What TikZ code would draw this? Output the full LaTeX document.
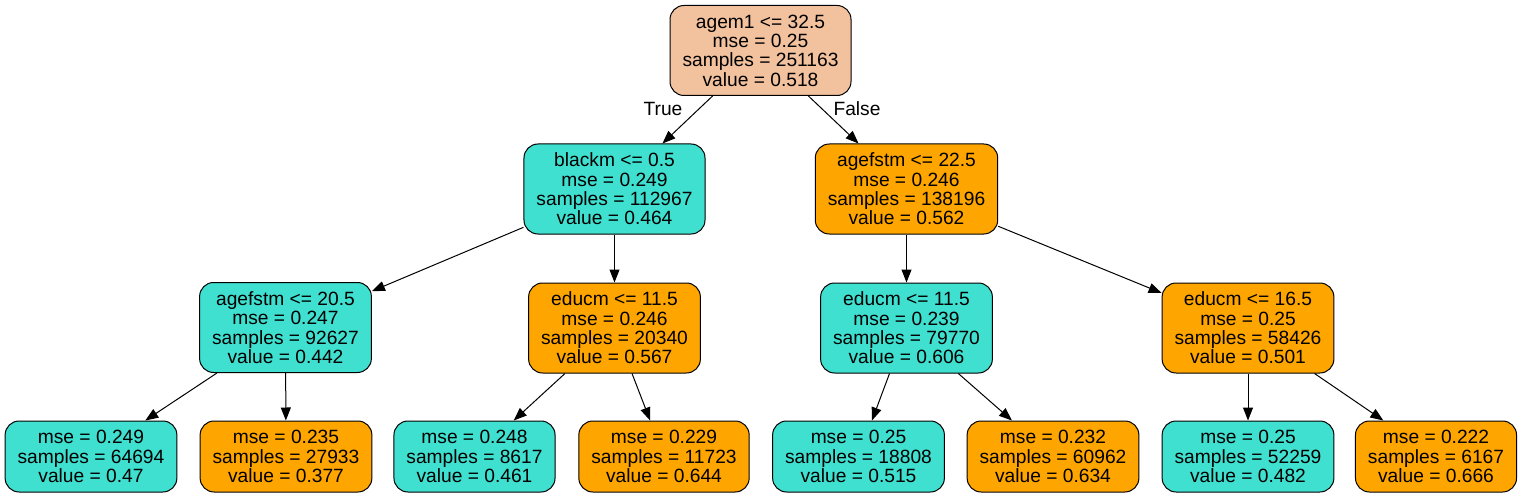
\documentclass[tikz,border=0pt]{standalone}
\usepackage{fontspec}
\setmainfont{Liberation Sans}
\usetikzlibrary{arrows.meta}
\definecolor{turq}{HTML}{40E0D0}
\definecolor{orng}{HTML}{FFA500}
\definecolor{peach}{HTML}{F2C29E}
\begin{document}
\begin{tikzpicture}[x=1pt,y=-1pt,
  tnode/.style={draw=black, line width=1pt, rounded corners=14pt, align=center,
    inner xsep=12.5pt, inner ysep=0pt, font=\fontsize{19.2pt}{19.3pt}\selectfont},
  split/.style={tnode, minimum height=90pt},
  leaf/.style={tnode, minimum height=71pt},
  lbl/.style={font=\fontsize{19.2pt}{19.3pt}\selectfont, inner sep=0pt},
  edge/.style={draw=black, line width=1pt, -{Triangle[length=13pt,width=10pt]}}]
\useasboundingbox (0,0) rectangle (1522,497);
\node[split, fill=peach] (root) at (760.5,50.5) {agem1 <= 32.5\\mse = 0.25\\samples = 251163\\value = 0.518};
\node[split, fill=turq] (n1) at (614.5,189) {blackm <= 0.5\\mse = 0.249\\samples = 112967\\value = 0.464};
\node[split, fill=orng] (n2) at (906.5,189) {agefstm <= 22.5\\mse = 0.246\\samples = 138196\\value = 0.562};
\node[split, fill=turq] (n3) at (285.5,327.5) {agefstm <= 20.5\\mse = 0.247\\samples = 92627\\value = 0.442};
\node[split, fill=orng] (n4) at (614.5,328) {educm <= 11.5\\mse = 0.246\\samples = 20340\\value = 0.567};
\node[split, fill=turq] (n5) at (906.5,328) {educm <= 11.5\\mse = 0.239\\samples = 79770\\value = 0.606};
\node[split, fill=orng] (n6) at (1248,328) {educm <= 16.5\\mse = 0.25\\samples = 58426\\value = 0.501};
\node[leaf, fill=turq] (l1) at (91,456.5) {mse = 0.249\\samples = 64694\\value = 0.47};
\node[leaf, fill=orng] (l2) at (286,456.5) {mse = 0.235\\samples = 27933\\value = 0.377};
\node[leaf, fill=turq] (l3) at (474.5,456.5) {mse = 0.248\\samples = 8617\\value = 0.461};
\node[leaf, fill=orng] (l4) at (664,456.5) {mse = 0.229\\samples = 11723\\value = 0.644};
\node[leaf, fill=turq] (l5) at (858.5,456.5) {mse = 0.25\\samples = 18808\\value = 0.515};
\node[leaf, fill=orng] (l6) at (1053,456.5) {mse = 0.232\\samples = 60962\\value = 0.634};
\node[leaf, fill=turq] (l7) at (1248,456.5) {mse = 0.25\\samples = 52259\\value = 0.482};
\node[leaf, fill=orng] (l8) at (1436,456.5) {mse = 0.222\\samples = 6167\\value = 0.666};
\node[lbl] (tlab) at (663,109) {True};
\node[lbl] (flab) at (857,109) {False};
\draw[edge] (root) -- (n1);
\draw[edge] (root) -- (n2);
\draw[edge] (n1) -- (n3);
\draw[edge] (n1) -- (n4);
\draw[edge] (n2) -- (n5);
\draw[edge] (n2) -- (n6);
\draw[edge] (n3) -- (l1);
\draw[edge] (n3) -- (l2);
\draw[edge] (n4) -- (l3);
\draw[edge] (n4) -- (l4);
\draw[edge] (n5) -- (l5);
\draw[edge] (n5) -- (l6);
\draw[edge] (n6) -- (l7);
\draw[edge] (n6) -- (l8);
\end{tikzpicture}
\end{document}
